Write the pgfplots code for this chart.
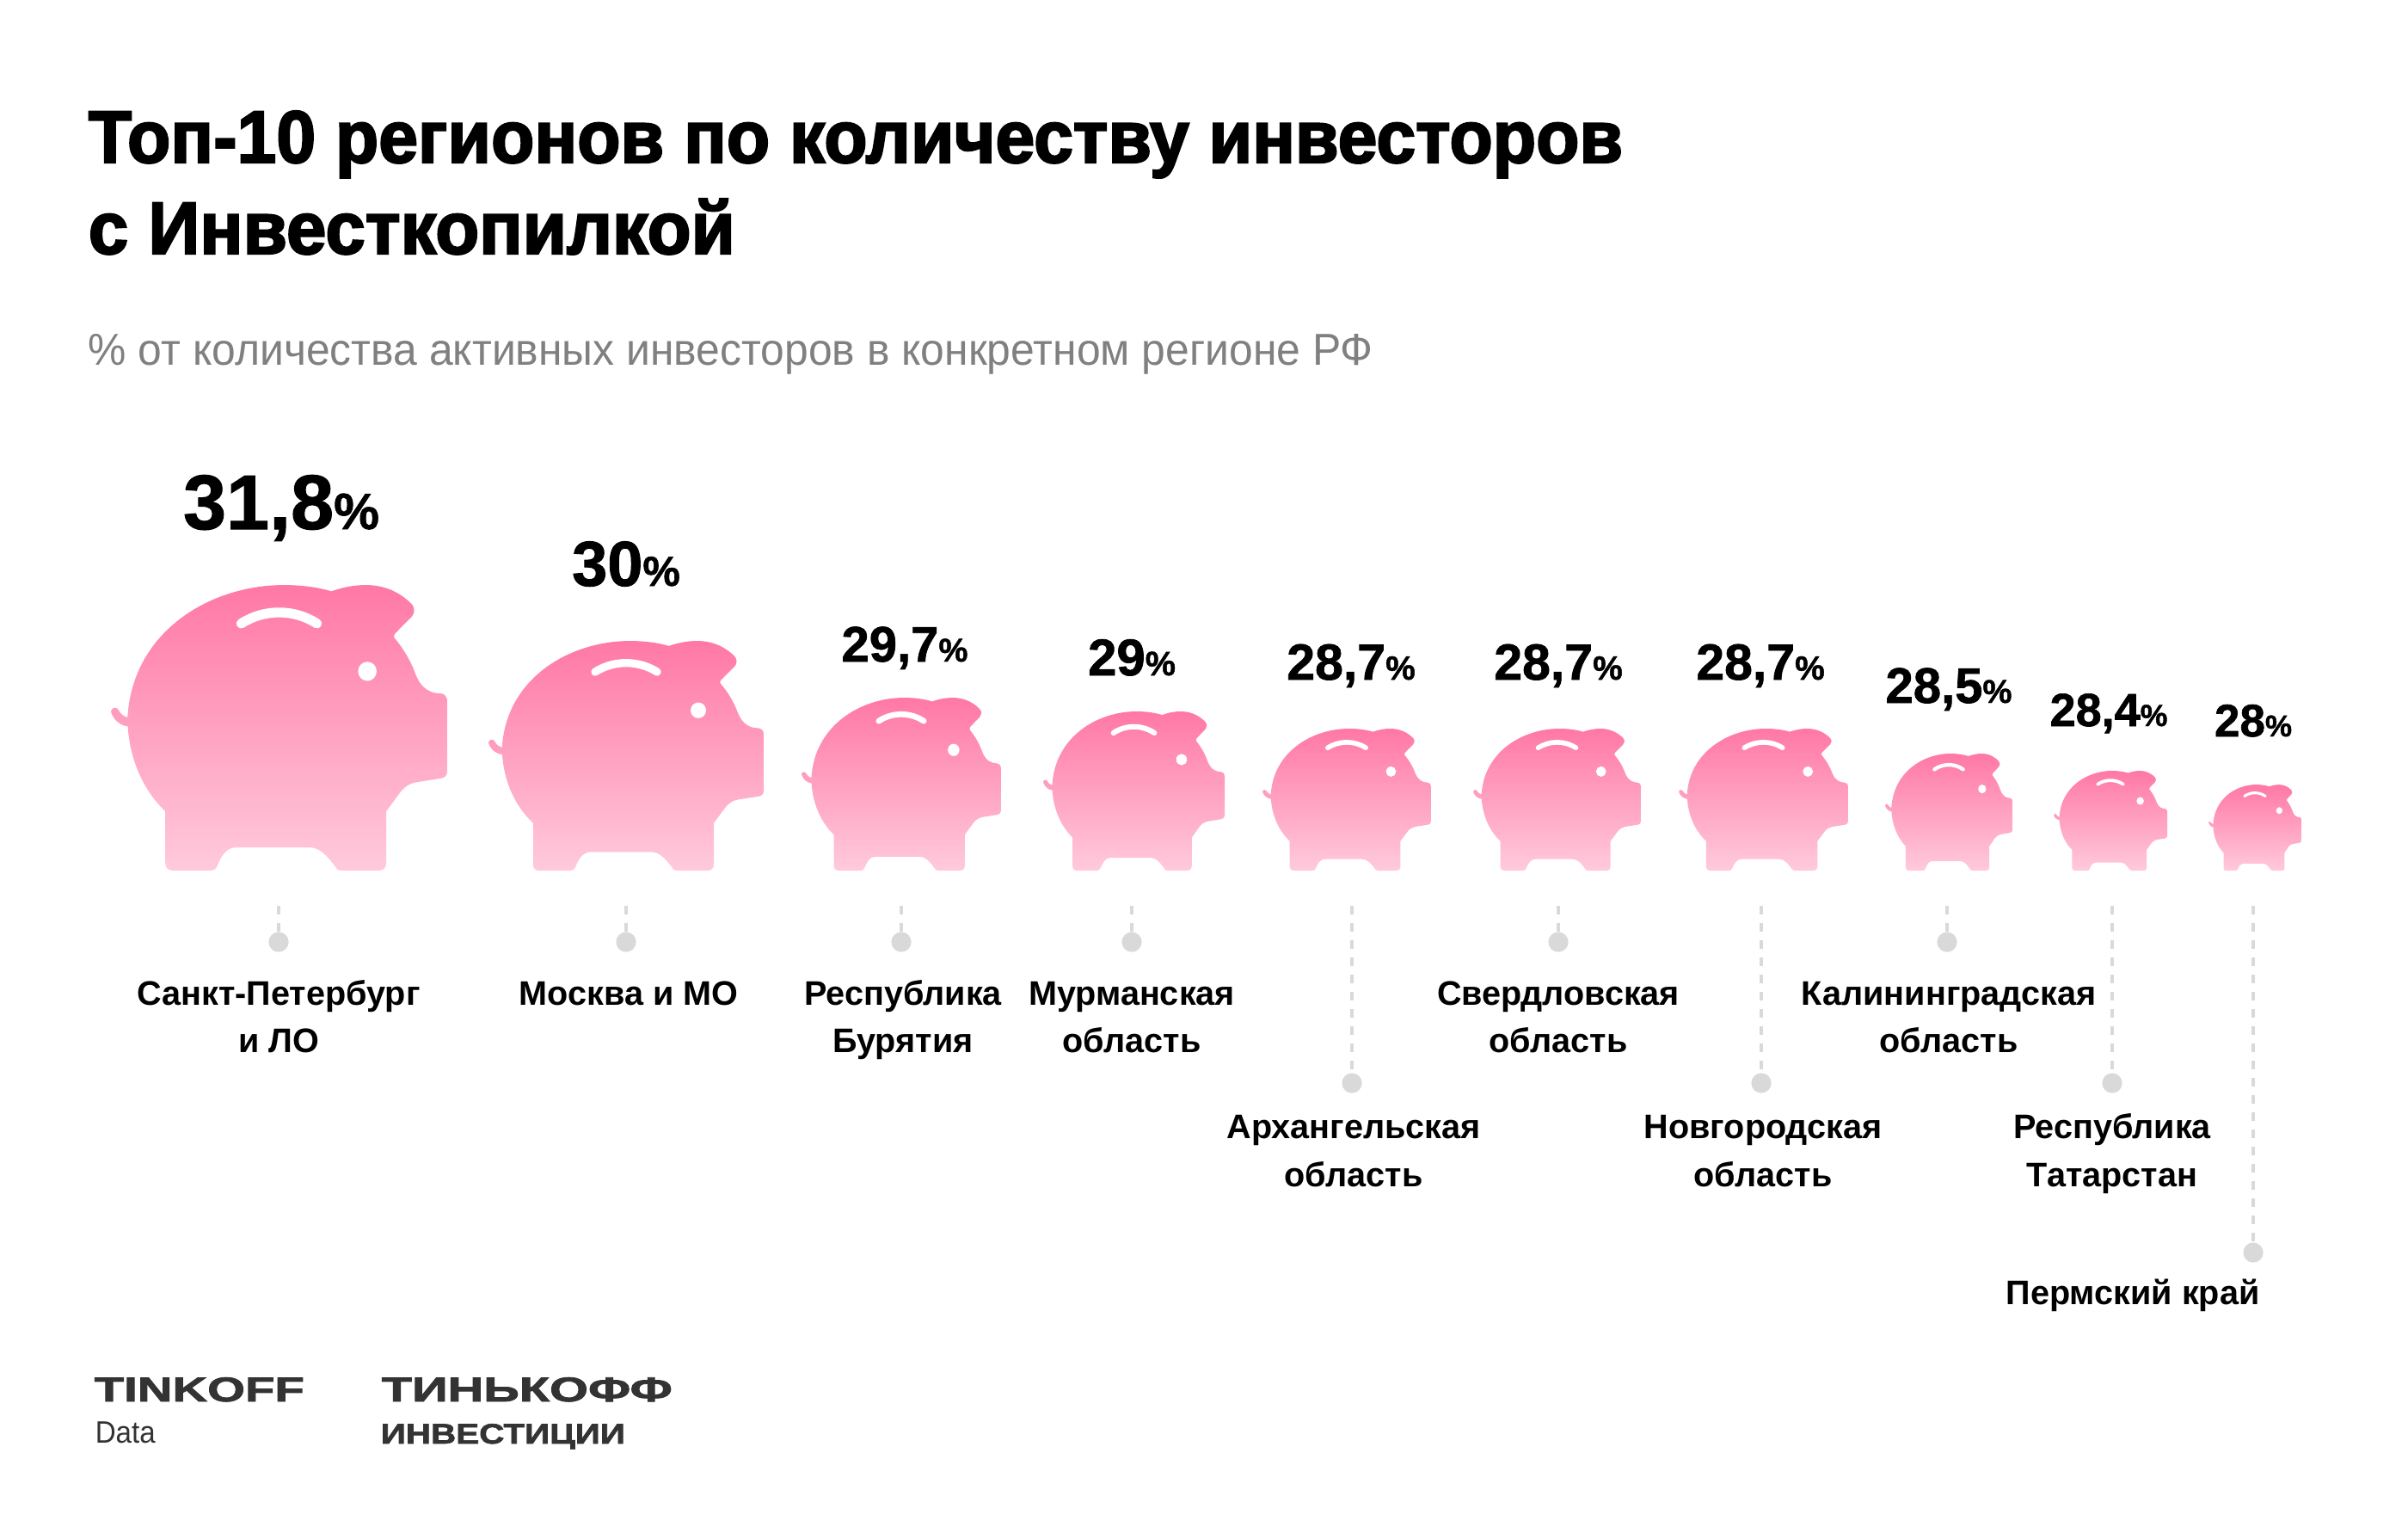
\documentclass[border=0pt]{standalone}
\usepackage{fontspec}
\usepackage{graphicx}
\usepackage{pgfplots}
\usepackage{pgfplotstable}
\pgfplotsset{compat=1.18}
\setmainfont{Liberation Sans}
\newfontfamily\heavyfont[UprightFont={* Bold},FakeBold=2.6]{Liberation Sans}
\newfontfamily\logofont[UprightFont={* Bold},FakeBold=1.8]{Liberation Sans}
\newfontfamily\valfont[UprightFont={* Bold},FakeBold=1.2]{Liberation Sans}
\definecolor{pigtop}{HTML}{FF78A6}
\definecolor{pigbot}{HTML}{FFCADC}
\definecolor{lead}{HTML}{D9D9D9}
\definecolor{subgray}{HTML}{808080}
\definecolor{logo}{HTML}{333333}
\pgfplotstableread{
x0   yb    W   H   cx   ly   fs lab  val
129  1012  391 332 327  615  90 31,8 31.8
568  1012  320 267 728  681  74 30   30
932  1012  232 201 1052 769  58 29,7 29.7
1213 1012  211 185 1316 785  60 29   29
1468 1012  196 165 1571 790  59 28,7 28.7
1713 1012  195 165 1812 790  59 28,7 28.7
1952 1012  197 165 2047 790  59 28,7 28.7
2192 1012  148 136 2266 817  58 28,5 28.5
2388 1012  132 116 2452 844  54 28,4 28.4
2568 1012  108 100 2620 856  53 28   28
}\pigdata
\pgfplotstableread{
x y
324  1095
728  1095
1048 1095
1316 1095
1572 1259
1812 1095
2048 1259
2264 1095
2456 1259
2620 1456
}\leaddata
\pgfdeclareplotmark{pig}{%
  \pgfmathsetmacro\sx{\pigW*0.25/1175}%
  \pgfmathsetmacro\sy{\pigH*0.25/867}%
  \path[x=\sx pt,y=\sy pt,draw=none,top color=pigtop,bottom color=pigbot]
    (58,465) .. controls (75,725) and (345,867) .. (605,867)
    .. controls (665,867) and (725,860) .. (770,848)
    .. controls (810,860) and (850,867) .. (890,867)
    .. controls (965,867) and (1015,840) .. (1050,810)
    .. controls (1065,795) and (1060,780) .. (1050,770)
    -- (993,720) .. controls (988,715) and (988,712) .. (990,707)
    .. controls (1030,665) and (1050,630) .. (1065,595)
    .. controls (1085,550) and (1120,538) .. (1150,538)
    .. controls (1165,538) and (1175,528) .. (1175,515)
    -- (1175,300) .. controls (1175,288) and (1165,282) .. (1153,280)
    -- (1065,268) .. controls (1045,265) and (1027,255) .. (1013,240)
    -- (962,180) -- (962,23)
    .. controls (962,10) and (952,0) .. (937,0)
    -- (803,0) .. controls (793,0) and (787,5) .. (783,13)
    .. controls (755,45) and (730,70) .. (695,70)
    -- (435,70) .. controls (405,70) and (385,45) .. (373,17)
    .. controls (367,5) and (360,0) .. (350,0)
    -- (215,0) .. controls (200,0) and (190,10) .. (190,23)
    -- (190,180) .. controls (105,250) and (58,355) .. (58,465)
    -- (58,438) .. controls (35,440) and (10,455) .. (0,482)
    .. controls (0,495) and (20,500) .. (27,487)
    .. controls (33,477) and (43,468) .. (58,465) -- cycle;
  \draw[x=\sx pt,y=\sy pt,white,line cap=round,line width=\sx*34 pt]
    (455,750) .. controls (535,795) and (640,795) .. (720,750);
  \fill[x=\sx pt,y=\sy pt,white] (896,605) ellipse [x radius=30,y radius=27];
}
\newcommand{\lab}[3]{\node[anchor=base,inner sep=0pt,font=\fontsize{9.9pt}{11pt}\selectfont\bfseries] at (axis cs:#1,#2) {#3};}
\newcommand{\fit}[5]{\node[anchor=base west,inner sep=0pt,text=#5] at (axis cs:#1,#2) {\resizebox{#3}{\height}{#4}};}
\begin{document}
\begin{tikzpicture}
\begin{axis}[name=a,scale only axis,width=700pt,height=447pt,
  xmin=0,xmax=2800,ymin=0,ymax=1788,y dir=reverse,hide axis,clip=false]
% leaders
\addplot[lead,line width=1pt,dash pattern=on 2.5pt off 2.5pt] coordinates {(324,1053)(324,1095)};
\addplot[lead,line width=1pt,dash pattern=on 2.5pt off 2.5pt] coordinates {(728,1053)(728,1095)};
\addplot[lead,line width=1pt,dash pattern=on 2.5pt off 2.5pt] coordinates {(1048,1053)(1048,1095)};
\addplot[lead,line width=1pt,dash pattern=on 2.5pt off 2.5pt] coordinates {(1316,1053)(1316,1095)};
\addplot[lead,line width=1pt,dash pattern=on 2.5pt off 2.5pt] coordinates {(1572,1053)(1572,1259)};
\addplot[lead,line width=1pt,dash pattern=on 2.5pt off 2.5pt] coordinates {(1812,1053)(1812,1095)};
\addplot[lead,line width=1pt,dash pattern=on 2.5pt off 2.5pt] coordinates {(2048,1053)(2048,1259)};
\addplot[lead,line width=1pt,dash pattern=on 2.5pt off 2.5pt] coordinates {(2264,1053)(2264,1095)};
\addplot[lead,line width=1pt,dash pattern=on 2.5pt off 2.5pt] coordinates {(2456,1053)(2456,1259)};
\addplot[lead,line width=1pt,dash pattern=on 2.5pt off 2.5pt] coordinates {(2620,1053)(2620,1456)};
\addplot[only marks,mark=*,mark size=2.7pt,lead,mark options={draw=lead,fill=lead}] table[x=x,y=y] {\leaddata};
% pigs
\addplot[scatter,only marks,mark=pig,point meta=x,
  scatter/use mapped color={draw=none,fill=none},
  visualization depends on={\thisrow{W} \as \pigW},
  visualization depends on={\thisrow{H} \as \pigH}]
  table[x=x0,y=yb] {\pigdata};
% value labels
\addplot[draw=none,mark=none,point meta=explicit symbolic,
  visualization depends on={\thisrow{fs} \as \fsv},
  nodes near coords={\pgfmathsetmacro\fa{\fsv*0.25}\pgfmathsetmacro\fb{\fsv*0.25*0.66}\valfont\fontsize{\fa pt}{\fa pt}\selectfont\pgfplotspointmeta\fontsize{\fb pt}{\fb pt}\selectfont\%},
  every node near coord/.append style={anchor=base,inner sep=0pt,yshift=0pt}]
  table[x=cx,y=ly,meta=lab] {\pigdata};
% titles
\fit{102}{189}{446pt}{\heavyfont\fontsize{21.5pt}{25pt}\selectfont Топ-10 регионов по количеству инвесторов}{black}
\fit{102}{295}{188pt}{\heavyfont\fontsize{21.5pt}{25pt}\selectfont с Инвесткопилкой}{black}
\fit{102}{424}{373.5pt}{\fontsize{13pt}{15pt}\selectfont \% от количества активных инвесторов в конкретном регионе РФ}{subgray}
% region labels
\lab{324}{1168}{Санкт-Петербург}\lab{324}{1223}{и ЛО}
\lab{731}{1168}{Москва и МО}
\lab{1050}{1168}{Республика}\lab{1050}{1223}{Бурятия}
\lab{1316}{1168}{Мурманская}\lab{1316}{1223}{область}
\lab{1574}{1323}{Архангельская}\lab{1574}{1379}{область}
\lab{1812}{1168}{Свердловская}\lab{1812}{1223}{область}
\lab{2050}{1323}{Новгородская}\lab{2050}{1379}{область}
\lab{2266}{1168}{Калининградская}\lab{2266}{1223}{область}
\lab{2456}{1323}{Республика}\lab{2456}{1379}{Татарстан}
\lab{2480}{1516}{Пермский край}
% logos
\fit{109}{1629}{61pt}{\logofont\fontsize{10pt}{12pt}\selectfont TINKOFF}{logo}
\fit{110}{1677}{17.5pt}{\fontsize{9pt}{10pt}\selectfont Data}{logo}
\fit{443}{1629}{84.5pt}{\logofont\fontsize{10pt}{12pt}\selectfont ТИНЬКОФФ}{logo}
\fit{442}{1678}{71pt}{\logofont\fontsize{8.2pt}{10pt}\selectfont ИНВЕСТИЦИИ}{logo}
\end{axis}
\path (a.south west) (a.north east);
\end{tikzpicture}
\end{document}
